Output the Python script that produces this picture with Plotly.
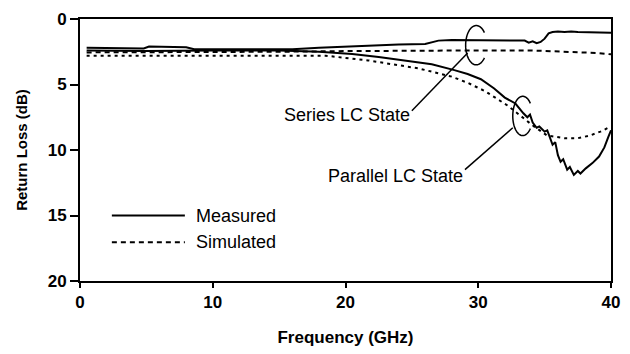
import numpy as np
import plotly.graph_objects as go

# ---------------- data ----------------
# Series LC state, measured
f_series_meas = [0.5, 2, 4, 4.8, 5.2, 6, 8, 8.6, 10, 12, 14, 16, 18, 20, 22, 24, 26, 26.5, 27,
                 28, 30, 32, 33, 33.5, 33.8, 34.1, 34.4, 34.7, 35.0, 35.3, 35.6, 36, 36.5, 37,
                 37.5, 38, 39, 40]
rl_series_meas = [2.2, 2.2, 2.25, 2.25, 2.1, 2.1, 2.15, 2.3, 2.3, 2.3, 2.35, 2.3, 2.2, 2.1, 2.0,
                  1.95, 1.9, 1.8, 1.65, 1.6, 1.6, 1.6, 1.65, 1.65, 1.8, 1.7, 1.85, 1.75, 1.5,
                  1.1, 1.0, 0.95, 1.0, 0.95, 1.0, 1.0, 1.05, 1.05]

# Series LC state, simulated
f_series_sim = [0.5, 5, 10, 15, 20, 26, 30, 34, 37, 39, 40]
rl_series_sim = [2.55, 2.55, 2.55, 2.5, 2.45, 2.4, 2.4, 2.4, 2.5, 2.6, 2.7]

# Parallel LC state, measured
f_par_meas = [0.5, 5, 10, 15, 18, 20.5, 22.5, 24.5, 26.5, 28.2, 29.2, 30.2, 31.2, 32, 32.8,
              33.4, 33.7, 33.9, 34.1, 34.4, 34.6, 35.0, 35.2, 35.6, 35.8, 36.0, 36.2, 36.4,
              36.7, 36.9, 37.2, 37.5, 37.7, 38.1, 38.6, 39.1, 39.5, 39.8, 40]
rl_par_meas = [2.4, 2.45, 2.4, 2.4, 2.5, 2.68, 2.9, 3.2, 3.45, 3.9, 4.2, 4.6, 5.3, 6.0, 6.45,
               7.2, 7.5, 7.3, 7.9, 8.3, 8.2, 8.6, 8.5, 9.6, 9.4, 10.4, 10.9, 10.7, 11.5, 11.3,
               11.9, 11.6, 11.8, 11.4, 11.0, 10.5, 9.8, 9.0, 8.5]

# Parallel LC state, simulated
f_par_sim = [0.5, 5, 10, 15, 18.5, 21.7, 25.5, 28, 29.2, 30.5, 32.2, 33.2, 34.2, 35.2, 36.5,
             37.5, 38.4, 39.2, 40]
rl_par_sim = [2.8, 2.8, 2.8, 2.8, 2.8, 3.16, 3.77, 4.4, 4.87, 5.5, 6.6, 7.4, 8.2, 8.9, 9.1,
              9.1, 8.9, 8.6, 8.2]

x_ticks = [0, 10, 20, 30, 40]
y_ticks = [0, 5, 10, 15, 20]
legend_labels = ["Measured", "Simulated"]
state_labels = ["Series LC State", "Parallel LC State"]

FONT = "Arial, Liberation Sans, sans-serif"
SOLID = dict(color="black", width=2)
DASH_S = dict(color="black", width=2, dash="5px,4px")
DASH_P = dict(color="black", width=2, dash="3px,4px")

fig = go.Figure()
fig.add_trace(go.Scatter(x=f_series_meas, y=rl_series_meas, mode="lines", line=SOLID,
                         name="Series LC State – Measured", showlegend=False))
fig.add_trace(go.Scatter(x=f_par_meas, y=rl_par_meas, mode="lines", line=SOLID,
                         name="Parallel LC State – Measured", showlegend=False))
fig.add_trace(go.Scatter(x=f_series_sim, y=rl_series_sim, mode="lines", line=DASH_S,
                         name="Series LC State – Simulated", showlegend=False))
fig.add_trace(go.Scatter(x=f_par_sim, y=rl_par_sim, mode="lines", line=DASH_P,
                         name="Parallel LC State – Simulated", showlegend=False))


def open_ellipse(cx, cy, rx, ry):
    t = np.radians(np.linspace(40, 320, 60))
    xs = cx + rx * np.cos(t)
    ys = cy + ry * np.sin(t)
    return "M " + " L ".join(f"{a:.4f},{b:.4f}" for a, b in zip(xs, ys))


thin = dict(color="black", width=1.5)
shapes = [
    dict(type="path", path=open_ellipse(29.85, 2.0, 0.8, 1.5), xref="x", yref="y", line=thin),
    dict(type="path", path=open_ellipse(33.35, 7.4, 0.75, 1.5), xref="x", yref="y", line=thin),
    dict(type="line", x0=29.2, y0=2.6, x1=25.0, y1=7.0, xref="x", yref="y", line=thin),
    dict(type="line", x0=32.6, y0=8.3, x1=29.0, y1=11.5, xref="x", yref="y", line=thin),
    # manual legend samples
    dict(type="line", x0=2.4, x1=7.9, y0=15.0, y1=15.0, xref="x", yref="y", line=SOLID),
    dict(type="line", x0=2.4, x1=7.9, y0=17.05, y1=17.05, xref="x", yref="y",
         line=dict(color="black", width=2, dash="5px,4px")),
]

txt = dict(family=FONT, size=18, color="black")
annotations = [
    dict(x=25.0, y=7.35, xref="x", yref="y", text=state_labels[0], showarrow=False,
         xanchor="right", yanchor="middle", font=txt),
    dict(x=29.0, y=11.95, xref="x", yref="y", text=state_labels[1], showarrow=False,
         xanchor="right", yanchor="middle", font=txt),
    dict(x=8.6, y=15.0, xref="x", yref="y", text=legend_labels[0], showarrow=False,
         xanchor="left", yanchor="middle", font=txt),
    dict(x=8.6, y=17.05, xref="x", yref="y", text=legend_labels[1], showarrow=False,
         xanchor="left", yanchor="middle", font=txt),
]

fig.update_layout(
    width=630, height=354,
    margin=dict(l=80, r=16, t=10, b=70),
    paper_bgcolor="white", plot_bgcolor="white",
    font=dict(family=FONT, size=15, color="black"),
    shapes=shapes, annotations=annotations,
    showlegend=False,
)

fig.update_xaxes(range=[0, 40], tickvals=x_ticks, ticks="outside", ticklen=5,
                 tickwidth=1.5, tickcolor="black",
                 showline=True, linecolor="black", linewidth=2, mirror=True,
                 showgrid=False, zeroline=False,
                 tickfont=dict(family=FONT, size=17, color="black", weight="bold"),
                 title=dict(text="Frequency (GHz)", standoff=20,
                            font=dict(family=FONT, size=17, color="black", weight="bold")))
fig.update_yaxes(range=[20, 0], tickvals=y_ticks, ticks="outside", ticklen=8,
                 tickwidth=1.5, tickcolor="black",
                 showline=True, linecolor="black", linewidth=2, mirror=True,
                 showgrid=False, zeroline=False,
                 tickfont=dict(family=FONT, size=17, color="black", weight="bold"),
                 title=dict(text="Return Loss (dB)", standoff=16,
                            font=dict(family=FONT, size=15, color="black", weight="bold")))

fig.write_html("out.html", config={"displayModeBar": False},
               post_script="document.body.style.margin='0';")
